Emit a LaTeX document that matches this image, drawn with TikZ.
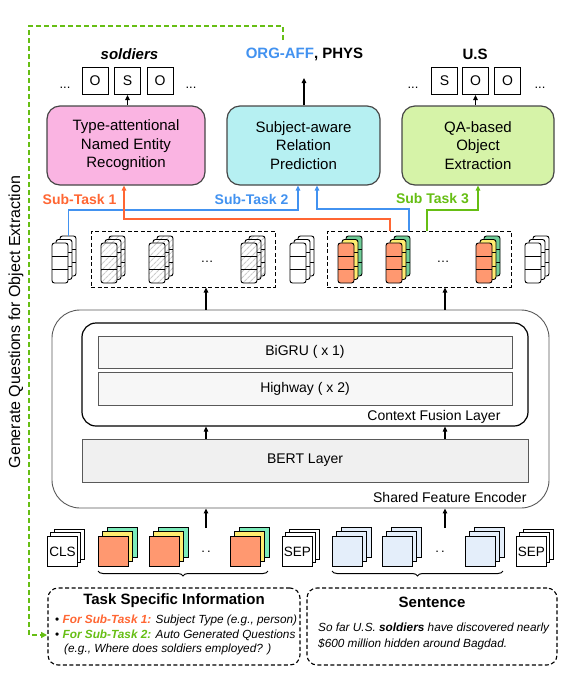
\documentclass[tikz,border=0pt]{standalone}
\usepackage{fontspec}
\setmainfont{Liberation Sans}
\usetikzlibrary{arrows.meta,patterns.meta,decorations.pathreplacing}
\definecolor{cOrange}{RGB}{255,102,51}
\definecolor{cBlue}{RGB}{66,146,240}
\definecolor{cGreen}{RGB}{102,190,20}
\definecolor{cPink}{RGB}{250,180,226}
\definecolor{cCyan}{RGB}{182,240,242}
\definecolor{cLime}{RGB}{214,243,168}
\definecolor{cSalmon}{RGB}{255,152,112}
\definecolor{cYellow}{RGB}{255,236,112}
\definecolor{cMint}{RGB}{112,206,152}
\definecolor{cAqua}{RGB}{125,236,188}
\definecolor{cIce}{RGB}{228,238,250}
\definecolor{cEdge}{RGB}{70,70,70}
\newcommand{\fsz}[2]{\fontsize{#1}{#2}\selectfont}
\newcommand{\vecstack}[6]{%
  \foreach \k/\cc in {2/#5,1/#4,0/#3}{%
    \fill[\cc,rounded corners=2.5] (#1+4*\k,#2-3.5*\k) rectangle ++(16,40);
    \fill[#6,rounded corners=2.5] (#1+4*\k,#2-3.5*\k) rectangle ++(16,40);
    \draw[vline] (#1+4*\k,#2-3.5*\k+13.3) -- ++(16,0);
    \draw[vline] (#1+4*\k,#2-3.5*\k+26.7) -- ++(16,0);
    \draw[vline,rounded corners=2.5] (#1+4*\k,#2-3.5*\k) rectangle ++(16,40);
  }}
\newcommand{\tokstack}[8]{%
  \filldraw[tokline,fill=#6] (#2+2*#7,#3-2*#7) rectangle ++(30,30);
  \filldraw[tokline,fill=#5] (#2+#7,#3-#7) rectangle ++(30,30);
  \node[tokline,draw,fill=#4,minimum size=30,inner sep=0,anchor=north west,font=\fsz{13.5}{15}] (#1) at (#2,#3) {#8};}
\begin{document}
\begin{tikzpicture}[x=1pt,y=-1pt,
  arr/.style={-{Triangle[length=5pt,width=4.5pt]},line width=1.1pt},
  vline/.style={line width=0.9pt,black},
  tokline/.style={line width=0.8pt,black},
  nohatch/.style={fill=none},
  hatch/.style={pattern={Lines[angle=45,distance=4pt,line width=1.1pt]},pattern color=black!20},
  obox/.style={draw,line width=1pt,minimum width=26,minimum height=27,inner sep=0,font=\fsz{14}{16}},
  taskbox/.style={draw=cEdge,line width=1.2pt,rounded corners=13,minimum height=79,align=center,font=\fsz{15}{18.5}},
  toplabel/.style={font=\bfseries\fsz{15}{18}},
  sublabel/.style={font=\bfseries\fsz{14}{16}},
  dbox/.style={draw,line width=1pt,dash pattern=on 4pt off 2.5pt},
  layerbox/.style={draw=black!65,line width=0.8pt,fill=black!3,minimum width=414,minimum height=32,font=\fsz{14}{16}},
  conn/.style={line width=1.4pt,-{Triangle[length=5pt,width=4.5pt]}},
  ibox/.style={draw,line width=1.1pt,dash pattern=on 4pt off 2.5pt,rounded corners=10,minimum width=252,minimum height=77},
  brc/.style={decorate,decoration={brace,mirror,amplitude=5pt},line width=1pt},
  dotsl/.style={font=\fsz{13}{15},anchor=base},
  gdash/.style={cGreen,line width=1.4pt,dash pattern=on 5pt off 3pt,-{Triangle[length=6pt,width=6pt]}},
  linetxt/.style={anchor=base west,font=\fsz{11.8}{13},inner sep=0}
]
\useasboundingbox (0,0) rectangle (579,673);

% ---------- top outputs ----------
\node[toplabel] (lsol) at (129.5,54) {\textit{soldiers}};
\node[toplabel] (lrel) at (304.5,54) {\textcolor{cBlue}{ORG-AFF}, PHYS};
\node[toplabel] (lus) at (475,54) {U.S};
\node[obox] (a1) at (95,81) {O};
\node[obox] (a2) at (127.5,81) {S};
\node[obox] (a3) at (160,81) {O};
\node[obox] (b1) at (444.5,81) {S};
\node[obox] (b2) at (475.5,81) {O};
\node[obox] (b3) at (507.5,81) {O};
\node[dotsl] (da1) at (65,88) {...};
\node[dotsl] (da2) at (191,88) {...};
\node[dotsl] (db1) at (413,88) {...};
\node[dotsl] (db2) at (540,88) {...};

% ---------- task boxes ----------
\node[taskbox,fill=cPink,minimum width=158] (ner) at (126,145.5) {Type-attentional\\Named Entity\\Recognition};
\node[taskbox,fill=cCyan,minimum width=153] (rp) at (303.5,145.5) {Subject-aware\\Relation\\Prediction};
\node[taskbox,fill=cLime,minimum width=152] (qa) at (478,145.5) {QA-based\\Object\\Extraction};

\coordinate (rtip) at (304,78);
\draw[arr] (ner.north -| a2) -- (a2.south);
\draw[arr] (rp.north -| rtip) -- (rtip);
\draw[arr] (qa.north -| b2) -- (b2.south);

% ---------- sub-task labels ----------
\node[sublabel,text=cOrange] (st1) at (79.5,199) {Sub-Task 1};
\node[sublabel,text=cBlue] (st2) at (251.5,199) {Sub-Task 2};
\node[sublabel,text=cGreen] (st3) at (432.5,199) {Sub Task 3};

% ---------- vector stacks ----------
\node[dbox,minimum width=184,minimum height=56] (lbox) at (183,259) {};
\node[dbox,minimum width=184,minimum height=56] (rbox) at (419,259) {};
\vecstack{52}{243}{white}{white}{white}{nohatch}
\vecstack{101}{243}{white}{white}{white}{hatch}
\vecstack{149}{243}{white}{white}{white}{hatch}
\vecstack{241}{243}{white}{white}{white}{hatch}
\vecstack{290}{243}{white}{white}{white}{nohatch}
\vecstack{338}{243}{cSalmon}{cYellow}{cMint}{nohatch}
\vecstack{386}{243}{cSalmon}{cYellow}{cMint}{nohatch}
\vecstack{476}{243}{cSalmon}{cYellow}{cMint}{nohatch}
\vecstack{525}{243}{white}{white}{white}{nohatch}
\node[dotsl] (dl) at (207,262) {…};
\node[dotsl] (dr) at (443,262) {…};

% ---------- sub-task connectors ----------
\coordinate (s1top) at (68.5,236);
\coordinate (oS) at (390,231);
\coordinate (bS) at (409,231);
\coordinate (gS) at (427,231);
\draw[conn,cBlue] (s1top) -- ++(0,-26) -| ([xshift=-5.5pt]rp.south);
\draw[conn,cBlue] (bS) -- ++(0,-22) -| ([xshift=13.5pt]rp.south);
\draw[conn,cGreen] (gS) -- ++(0,-21) -| (qa.south);
\draw[conn,cOrange] (oS) -- ++(0,-12) -| ([xshift=-2pt]ner.south);

% ---------- encoder ----------
\node[draw=black!65,line width=0.9pt,rounded corners=28,minimum width=497,minimum height=198] (enc) at (300.5,409) {};
\node[draw,line width=1.2pt,rounded corners=14,minimum width=446,minimum height=103] (cfl) at (305,374.5) {};
\node[layerbox] (bigru) at (305,352) {BiGRU ( x 1)};
\node[layerbox,minimum height=33] (hw) at (305,388.5) {Highway ( x 2)};
\node[layerbox,minimum width=446,minimum height=43,fill=black!6] (bert) at (305,460.5) {BERT Layer};
\node[font=\fsz{14}{16},anchor=east] (cfll) at (504,417) {Context Fusion Layer};
\node[font=\fsz{14}{16},anchor=east] (encl) at (530,497) {Shared Feature Encoder};

\coordinate (colA) at (206,0);
\coordinate (colB) at (445,0);
\draw[arr] (enc.north -| colA) -- (lbox.south -| colA);
\draw[arr] (enc.north -| colB) -- (rbox.south -| colB);
\draw[arr] (bert.north -| colA) -- (cfl.south -| colA);
\draw[arr] (bert.north -| colB) -- (cfl.south -| colB);
\coordinate (tokA) at (206,528);
\coordinate (tokB) at (445,528);
\draw[arr] (tokA) -- (enc.south -| colA);
\draw[arr] (tokB) -- (enc.south -| colB);

% ---------- input tokens ----------
\tokstack{cls}{47}{536}{white}{white}{white}{3.5}{CLS}
\tokstack{t1}{98}{536}{cSalmon}{cYellow}{cAqua}{4.5}{}
\tokstack{t2}{149}{536}{cSalmon}{cYellow}{cAqua}{4.5}{}
\tokstack{t3}{230}{536}{cSalmon}{cYellow}{cAqua}{4.5}{}
\tokstack{sep1}{282}{536}{white}{white}{white}{3.5}{SEP}
\tokstack{s1}{332}{536}{cIce}{cIce}{cIce}{4.5}{}
\tokstack{s2}{382}{536}{cIce}{cIce}{cIce}{4.5}{}
\tokstack{s3}{465}{536}{cIce}{cIce}{cIce}{4.5}{}
\tokstack{sep2}{516}{536}{white}{white}{white}{3.5}{SEP}
\node[dotsl] (tdl) at (206,552) {.\,.};
\node[dotsl] (tdr) at (440,552) {.\,.};

\coordinate (bra1) at (98,571);
\coordinate (bra2) at (268,571);
\coordinate (brb1) at (332,571);
\coordinate (brb2) at (503,571);
\draw[brc] (bra1) -- (bra2);
\draw[brc] (brb1) -- (brb2);

% ---------- info boxes ----------
\node[ibox] (tsi) at (174,626.5) {};
\node[ibox,minimum width=250] (sen) at (432,626.5) {};
\node[font=\bfseries\fsz{15}{18}] (tsit) at (174,601) {Task Specific Information};
\node[font=\bfseries\fsz{15}{18}] (sent) at (432,602) {Sentence};
\node[linetxt] (l1) at (55,623) {\textbullet\ \textcolor{cOrange}{\bfseries\itshape For Sub-Task 1:} \textit{Subject Type (e.g., person)}};
\node[linetxt] (l2) at (55,638.5) {\textbullet\ \textcolor{cGreen}{\bfseries\itshape For Sub-Task 2:} \textit{Auto Generated Questions}};
\node[linetxt] (l3) at (64,652) {\textit{(e.g., Where does soldiers employed? )}};
\node[linetxt] (sl1) at (318,631) {\textit{So far U.S. \textbf{soldiers} have discovered nearly}};
\node[linetxt] (sl2) at (318,647) {\textit{\$600 million hidden around Bagdad.}};

% ---------- question generation loop ----------
\coordinate (gqS) at (283,40);
\coordinate (gqC) at (29,26);
\coordinate (gqE) at (47,635);
\draw[gdash] (gqS) |- (gqC) |- (gqE);
\node[rotate=90,font=\fsz{16}{18}] (gql) at (16,322) {Generate Questions for Object Extraction};
\end{tikzpicture}
\end{document}
